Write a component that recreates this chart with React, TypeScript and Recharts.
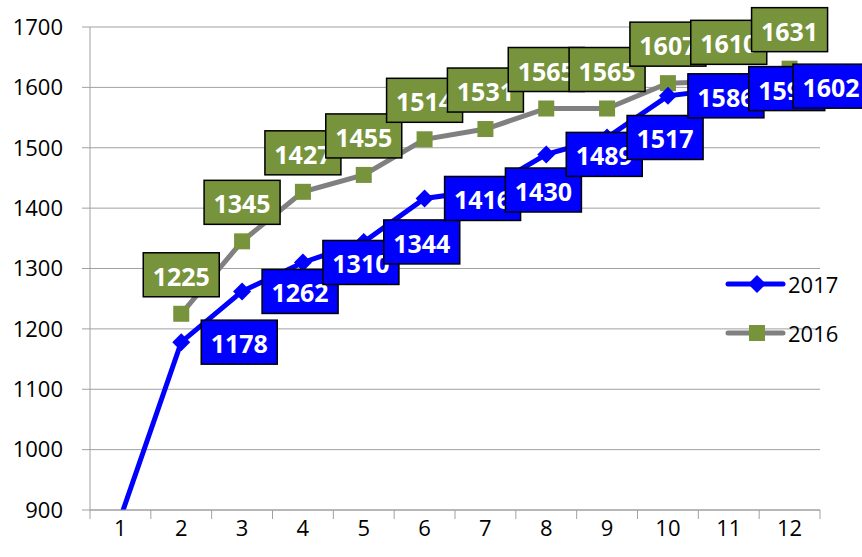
import { CartesianGrid, Line, LineChart, XAxis, YAxis } from 'recharts';

const FONT = '"Open Sans", "Liberation Sans", sans-serif';

const months = ['1', '2', '3', '4', '5', '6', '7', '8', '9', '10', '11', '12'];
const values2017 = [887, 1178, 1262, 1310, 1344, 1416, 1430, 1489, 1517, 1586, 1598, 1602];
const values2016 = [null, 1225, 1345, 1427, 1455, 1514, 1531, 1565, 1565, 1607, 1610, 1631];
const yTicks = [900, 1000, 1100, 1200, 1300, 1400, 1500, 1600, 1700];

const BLUE = '#0000FF';
const GREEN = '#77933C';
const GRAY = '#808080';
const GRID = '#A0A0A0';

const W = 862;
const H = 557;
const LEFT = 90;
const RIGHT = 820;
const TOP = 27;
const BOTTOM = 510;
const BAND = (RIGHT - LEFT) / months.length;

const data = months.map((m, i) => ({ month: m, y2017: values2017[i], y2016: values2016[i] }));

function XTick(props: any) {
  const { x, index } = props;
  return (
    <g>
      <line x1={x - BAND / 2} y1={BOTTOM} x2={x - BAND / 2} y2={BOTTOM + 9} stroke={GRID} />
      {index === months.length - 1 && (
        <line x1={x + BAND / 2} y1={BOTTOM} x2={x + BAND / 2} y2={BOTTOM + 9} stroke={GRID} />
      )}
      <text x={x} y={527} textAnchor="middle" dominantBaseline="central" fontSize={22} fontFamily={FONT} fill="#000">
        {props.payload.value}
      </text>
    </g>
  );
}

function Box({ cx, cy, fill, value }: { cx: number; cy: number; fill: string; value: number }) {
  return (
    <g>
      <rect x={cx - 38} y={cy - 22} width={76} height={44} fill={fill} stroke="#000" strokeWidth={1.5} />
      <text x={cx} y={cy + 1} textAnchor="middle" dominantBaseline="central" fontSize={25} fontWeight="bold" fontFamily={FONT} fill="#fff">
        {value}
      </text>
    </g>
  );
}

function label2016(props: any) {
  const { x, y, value } = props;
  if (value == null) return null;
  return <Box cx={x} cy={y - 39} fill={GREEN} value={value} />;
}

function label2017(props: any) {
  const { x, y, value, index } = props;
  if (value == null || index === 0) return null;
  return <Box cx={Math.min(x + 58, 831)} cy={y} fill={BLUE} value={value} />;
}

function squareDot(props: any) {
  const { cx, cy, index, value } = props;
  if (value == null || cy == null) return <g key={index} />;
  return <rect key={index} x={cx - 8} y={cy - 8} width={16} height={16} fill={GREEN} />;
}

function diamondDot(props: any) {
  const { cx, cy, index } = props;
  if (index === 0) return <g key={index} />;
  const r = 9;
  return (
    <path key={index} d={`M${cx},${cy - r}L${cx + r},${cy}L${cx},${cy + r}L${cx - r},${cy}Z`} fill={BLUE} />
  );
}

function LegendBox() {
  return (
    <svg width={140} height={90} style={{ position: 'absolute', left: 720, top: 270 }}>
      <line x1={8} y1={14} x2={63} y2={14} stroke={BLUE} strokeWidth={5} strokeLinecap="round" />
      <path d="M37,5L46,14L37,23L28,14Z" fill={BLUE} />
      <text x={68} y={14} dominantBaseline="central" fontSize={22} fontFamily={FONT} fill="#000">2017</text>
      <line x1={8} y1={63} x2={63} y2={63} stroke={GRAY} strokeWidth={5} strokeLinecap="round" />
      <rect x={29} y={55} width={16} height={16} fill={GREEN} />
      <text x={68} y={63} dominantBaseline="central" fontSize={22} fontFamily={FONT} fill="#000">2016</text>
    </svg>
  );
}

export default function App() {
  return (
    <div style={{ position: 'absolute', left: 0, top: 0, width: W, height: H, background: '#fff', overflow: 'hidden' }}>
      <LineChart width={W} height={H} data={data} margin={{ top: TOP, right: W - RIGHT, bottom: 7, left: 0 }}>
        <CartesianGrid vertical={false} stroke={GRID} />
        <XAxis
          dataKey="month"
          height={H - BOTTOM - 7}
          padding={{ left: BAND / 2, right: BAND / 2 }}
          axisLine={{ stroke: GRID }}
          tickLine={false}
          tick={<XTick />}
          interval={0}
        />
        <YAxis
          width={LEFT}
          domain={[900, 1700]}
          ticks={yTicks}
          allowDataOverflow
          axisLine={{ stroke: GRID }}
          tickLine={{ stroke: GRID }}
          tickSize={8}
          tickMargin={19}
          tick={{ fill: '#000', fontSize: 22, fontFamily: FONT }}
        />
        <Line
          type="linear"
          dataKey="y2016"
          name="2016"
          stroke={GRAY}
          strokeWidth={5}
          dot={squareDot}
          activeDot={false}
          label={label2016}
          connectNulls
          isAnimationActive={false}
        />
        <Line
          type="linear"
          dataKey="y2017"
          name="2017"
          stroke={BLUE}
          strokeWidth={5}
          dot={diamondDot}
          activeDot={false}
          label={label2017}
          isAnimationActive={false}
        />
      </LineChart>
      <LegendBox />
    </div>
  );
}
